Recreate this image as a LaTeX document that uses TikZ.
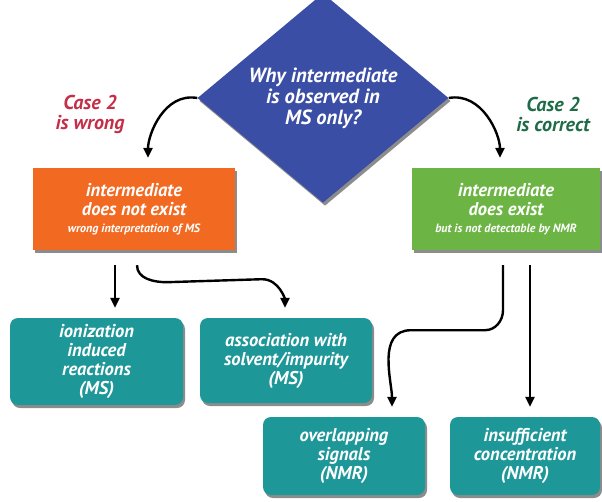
\documentclass[tikz,border=0pt]{standalone}
\usepackage{fontspec}
\setsansfont{PT Sans}
\usetikzlibrary{shapes.geometric,arrows.meta,shadows}
\definecolor{qblue}{HTML}{3B4EA6}
\definecolor{wrongorange}{HTML}{F26A22}
\definecolor{rightgreen}{HTML}{6CB544}
\definecolor{causeteal}{HTML}{1E9799}
\definecolor{wrongred}{HTML}{C42E48}
\definecolor{rightdgreen}{HTML}{1E6B47}
\begin{document}
\begin{tikzpicture}[x=1pt,y=-1pt,
	txt/.style={font=\sffamily\bfseries\itshape\fontsize{18.5}{19}\selectfont,text=white,align=center},
	shadowed/.style={drop shadow={shadow xshift=2pt,shadow yshift=-3pt,fill=black!75,opacity=.6}},
	cause/.style={txt,fill=causeteal,rounded corners=8pt,inner sep=0pt,shadowed},
	tag/.style={font=\sffamily\bfseries\itshape\fontsize{20}{20}\selectfont,align=center,text=#1},
	flow/.style={line width=2.4pt,-{Triangle[length=10pt,width=9pt]},shorten >=10pt}
]
	\useasboundingbox (0,0) rectangle (602,501);

	% >>> question
	\node[txt,font=\sffamily\bfseries\itshape\fontsize{20.5}{21}\selectfont,diamond,fill=qblue,inner sep=0pt,
		minimum width=251pt,minimum height=175pt,shadowed] (q) at (323,98)
		{Why intermediate\\is observed in\\MS only?};
	% <<< question

	% >>> two cases
	\node[txt,fill=wrongorange,minimum width=202pt,minimum height=82pt,shadowed] (wrong) at (134,209)
		{intermediate\\does not exist\\[-2pt]{\fontsize{12}{13}\selectfont wrong interpretation of MS}};
	\node[txt,fill=rightgreen,minimum width=188pt,minimum height=82pt,shadowed] (right) at (506,209)
		{intermediate\\does exist\\[-2pt]{\fontsize{12}{13}\selectfont but is not detectable by NMR}};
	\node[tag=wrongred] (wronglabel) at (90,114) {Case 2\\is wrong};
	\node[tag=rightdgreen] (rightlabel) at (553,114) {Case 2\\is correct};
	% <<< two cases

	% >>> causes
	\node[cause,minimum width=173pt,minimum height=87pt] (ion) at (96.5,361.5)
		{ionization\\induced\\reactions\\(MS)};
	\node[cause,minimum width=172pt,minimum height=85pt] (assoc) at (286,360.5)
		{association with\\solvent/impurity\\(MS)};
	\node[cause,minimum width=162pt,minimum height=78pt] (overlap) at (344,456)
		{overlapping\\signals\\(NMR)};
	\node[cause,minimum width=150pt,minimum height=78pt] (conc) at (525,456)
		{insufficient\\concentration\\(NMR)};
	% <<< causes

	% >>> arrows
	\draw[flow] (q.west) to[out=170,in=90] ([xshift=14pt]wrong.north);
	\draw[flow] (q.east) to[out=10,in=90] ([xshift=-6pt]right.north);
	\draw[flow] ([xshift=-19pt,yshift=-15pt]wrong.south) -- ([xshift=18.5pt]ion.north);
	\draw[flow] ([xshift=3pt,yshift=-15pt]wrong.south) to[out=-90,in=180] ++(30,17) coordinate (bendl)
		-- ++(95,-3) to[out=0,in=90] ([xshift=-1pt]assoc.north);
	\draw[flow] ([xshift=-3pt,yshift=-15pt]right.south) -- ++(0,45) to[out=-90,in=0] ++(-18,20) coordinate (bendr)
		-- ++(-74,0) to[out=180,in=90] ([xshift=48pt]overlap.north);
	\draw[flow] ([xshift=24pt,yshift=-15pt]right.south) -- ([xshift=5pt]conc.north);
	% <<< arrows
\end{tikzpicture}
\end{document}
